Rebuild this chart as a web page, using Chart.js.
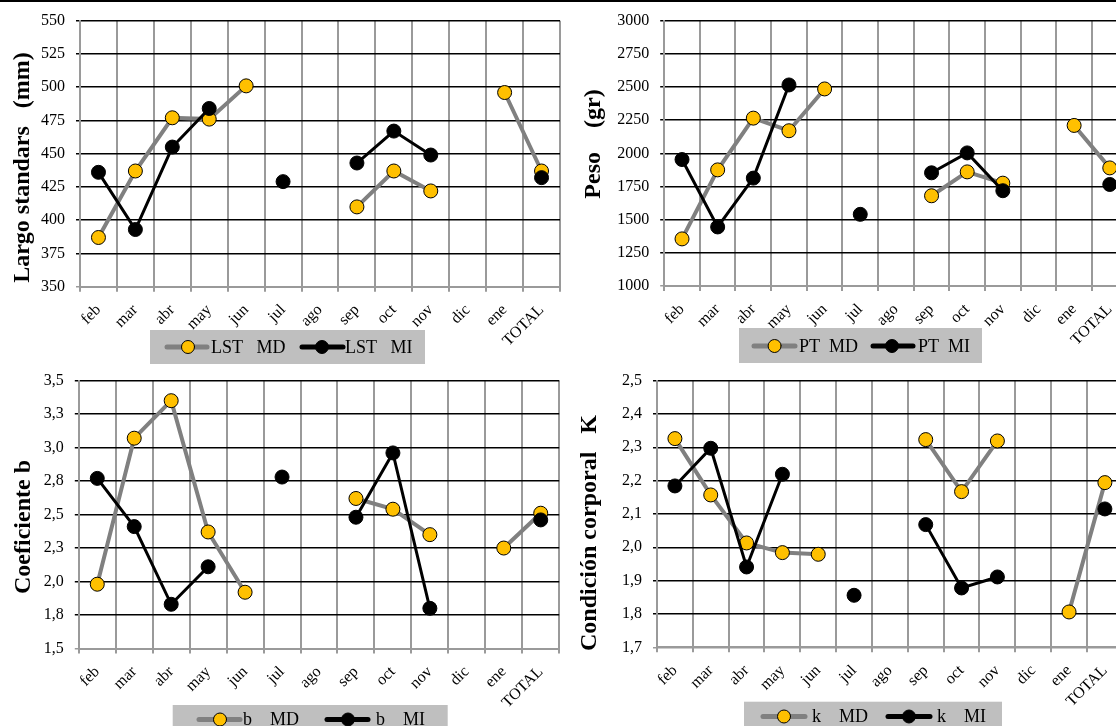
<!DOCTYPE html>
<html>
<head>
<meta charset="utf-8">
<script src="https://cdn.jsdelivr.net/npm/chart.js@4.4.1/dist/chart.umd.min.js"></script>
<style>
  html, body { margin: 0; padding: 0; background: #fff; overflow: hidden; }
  #page { position: relative; width: 1116px; height: 726px; overflow: hidden; background: #fff; }
  #topRule { position: absolute; left: 0; top: 0; width: 1116px; height: 2px; background: #000; }
  canvas { position: absolute; }
</style>
</head>
<body>
<div id="page">
  <div id="topRule"></div>
  <canvas id="c1"></canvas>
  <canvas id="c2"></canvas>
  <canvas id="c3"></canvas>
  <canvas id="c4"></canvas>
</div>
<script>
// Monthly categories (plus the overall total)
const months = ['feb', 'mar', 'abr', 'may', 'jun', 'jul', 'ago', 'sep', 'oct', 'nov', 'dic', 'ene', 'TOTAL'];

// Largo standard (mm)
const lstMD = [387, 437, 477, 476, 501, null, null, 410, 437, 422, null, 496, 437];
const lstMI = [436, 393, 455, 484, null, 429, null, 443, 467, 449, null, null, 432];

// Peso (gr)
const ptMD = [1355, 1875, 2265, 2170, 2485, null, null, 1680, 1860, 1775, null, 2210, 1890];
const ptMI = [1953, 1445, 1813, 2515, null, 1540, null, 1853, 2003, 1718, null, null, 1765];

// Coeficiente b
const bMD = [1.98, 3.07, 3.35, 2.37, 1.92, null, null, 2.62, 2.54, 2.35, null, 2.25, 2.51];
const bMI = [2.77, 2.41, 1.83, 2.11, null, 2.78, null, 2.48, 2.96, 1.80, null, null, 2.46];

// Condición corporal K
const kMD = [2.326, 2.157, 2.013, 1.984, 1.979, null, null, 2.323, 2.167, 2.319, null, 1.806, 2.194];
const kMI = [2.184, 2.297, 1.941, 2.219, null, 1.856, null, 2.068, 1.878, 1.911, null, null, 2.115];

// Y-axis tick values and their printed labels
const lstTickValues = [350, 375, 400, 425, 450, 475, 500, 525, 550];
const lstTickLabels = ['350', '375', '400', '425', '450', '475', '500', '525', '550'];
const ptTickValues = [1000, 1250, 1500, 1750, 2000, 2250, 2500, 2750, 3000];
const ptTickLabels = ['1000', '1250', '1500', '1750', '2000', '2250', '2500', '2750', '3000'];
const bTickValues = [1.5, 1.75, 2.0, 2.25, 2.5, 2.75, 3.0, 3.25, 3.5];
const bTickLabels = ['1,5', '1,8', '2,0', '2,3', '2,5', '2,8', '3,0', '3,3', '3,5'];
const kTickValues = [1.7, 1.8, 1.9, 2.0, 2.1, 2.2, 2.3, 2.4, 2.5];
const kTickLabels = ['1,7', '1,8', '1,9', '2,0', '2,1', '2,2', '2,3', '2,4', '2,5'];

// Series names shown in the legends
const lstNames = ['LST   MD', 'LST   MI'];
const ptNames = ['PT  MD', 'PT  MI'];
const bNames = ['b    MD', 'b    MI'];
const kNames = ['k    MD', 'k    MI'];

const SERIF = '"Liberation Serif", "Times New Roman", serif';
const GRAY_LINE = '#808080';
const GOLD = '#FFC000';
const GRID_V = '#9a9a9a';
const LEGEND_BG = '#bfbfbf';

// Page layout of the four panels (page coordinates)
const panels = [
  {
    canvas: 'c1', left: 0, top: 0, width: 575, height: 370,
    plot: { l: 80, t: 20.7, r: 560, b: 286.7 },
    tickValues: lstTickValues, tickLabels: lstTickLabels,
    names: lstNames, md: lstMD, mi: lstMI,
    title: 'Largo standars   (mm)', titleX: 29, titleY: 167.5,
    legend: { x: 150, y: 330, w: 275, h: 34, cy: 347,
      items: [{ x1: 167, x2: 207, cx: 188, tx: 211 }, { x1: 302, x2: 343, cx: 322, tx: 345 }] }
  },
  {
    canvas: 'c2', left: 560, top: 0, width: 600, height: 370,
    plot: { l: 664.2, t: 19.5, r: 1127.6, b: 286 },
    tickValues: ptTickValues, tickLabels: ptTickLabels,
    names: ptNames, md: ptMD, mi: ptMI,
    title: 'Peso    (gr)', titleX: 600, titleY: 144,
    legend: { x: 739, y: 328, w: 243, h: 35, cy: 346,
      items: [{ x1: 754, x2: 795, cx: 774.6, tx: 799 }, { x1: 873, x2: 913, cx: 892, tx: 918 }] }
  },
  {
    canvas: 'c3', left: 0, top: 360, width: 575, height: 366,
    plot: { l: 78.8, t: 380.5, r: 559.2, b: 648.5 },
    tickValues: bTickValues, tickLabels: bTickLabels,
    names: bNames, md: bMD, mi: bMI,
    title: 'Coeficiente b', titleX: 30, titleY: 527,
    legend: { x: 172.7, y: 705, w: 275, h: 34, cy: 719.5,
      items: [{ x1: 199, x2: 240, cx: 220, tx: 243 }, { x1: 327, x2: 368, cx: 348, tx: 376 }] }
  },
  {
    canvas: 'c4', left: 560, top: 360, width: 600, height: 366,
    plot: { l: 657, t: 379.3, r: 1122.8, b: 647.3 },
    tickValues: kTickValues, tickLabels: kTickLabels,
    names: kNames, md: kMD, mi: kMI,
    title: 'Condición corporal   K', titleX: 596, titleY: 533,
    legend: { x: 744, y: 701.7, w: 258, h: 34, cy: 716.5,
      items: [{ x1: 763, x2: 805, cx: 784, tx: 812 }, { x1: 888, x2: 930, cx: 909, tx: 937 }] }
  }
];

// Draws the rotated axis title and the boxed legend of each panel
const panelDecor = {
  id: 'panelDecor',
  afterDraw(chart, args, opts) {
    const ctx = chart.ctx;
    const ox = opts.originX, oy = opts.originY;

    ctx.save();
    ctx.font = 'bold 24px ' + SERIF;
    ctx.fillStyle = '#000';
    ctx.textAlign = 'center';
    ctx.textBaseline = 'alphabetic';
    ctx.translate(opts.titleX - ox, opts.titleY - oy);
    ctx.rotate(-Math.PI / 2);
    ctx.fillText(opts.title, 0, 0);
    ctx.restore();

    const lg = opts.legend;
    ctx.save();
    ctx.fillStyle = LEGEND_BG;
    ctx.fillRect(lg.x - ox, lg.y - oy, lg.w, lg.h);
    chart.data.datasets.forEach((ds, i) => {
      const it = lg.items[i];
      const cy = lg.cy - oy;
      ctx.strokeStyle = ds.borderColor;
      ctx.lineWidth = ds.legendLineWidth;
      ctx.lineCap = 'round';
      ctx.beginPath();
      ctx.moveTo(it.x1 - ox, cy);
      ctx.lineTo(it.x2 - ox, cy);
      ctx.stroke();
      ctx.beginPath();
      ctx.arc(it.cx - ox, cy, 6.5, 0, Math.PI * 2);
      ctx.fillStyle = ds.pointBackgroundColor;
      ctx.fill();
      ctx.lineWidth = 1;
      ctx.strokeStyle = '#000';
      ctx.stroke();
      ctx.fillStyle = '#000';
      ctx.font = '18px ' + SERIF;
      ctx.textAlign = 'left';
      ctx.textBaseline = 'middle';
      ctx.fillText(ds.label, it.tx - ox, cy + 1);
    });
    ctx.restore();
  }
};

panels.forEach(p => {
  const cv = document.getElementById(p.canvas);
  cv.width = p.width;
  cv.height = p.height;
  cv.style.left = p.left + 'px';
  cv.style.top = p.top + 'px';
  cv.style.width = p.width + 'px';
  cv.style.height = p.height + 'px';

  new Chart(cv, {
    type: 'line',
    data: {
      labels: months,
      datasets: [
        {
          label: p.names[0], data: p.md, order: 2,
          borderColor: GRAY_LINE, borderWidth: 4, legendLineWidth: 5,
          pointRadius: 7, pointBorderWidth: 1,
          pointBackgroundColor: GOLD, pointBorderColor: '#000',
          tension: 0, spanGaps: false
        },
        {
          label: p.names[1], data: p.mi, order: 1,
          borderColor: '#000', borderWidth: 3, legendLineWidth: 5,
          pointRadius: 7, pointBorderWidth: 1,
          pointBackgroundColor: '#000', pointBorderColor: '#000',
          tension: 0, spanGaps: false
        }
      ]
    },
    options: {
      responsive: false,
      animation: false,
      devicePixelRatio: 1,
      events: [],
      layout: {
        padding: {
          left: 0,
          top: p.plot.t - p.top,
          right: (p.left + p.width) - p.plot.r,
          bottom: 0
        }
      },
      plugins: {
        legend: { display: false },
        tooltip: { enabled: false },
        panelDecor: {
          originX: p.left, originY: p.top,
          title: p.title, titleX: p.titleX, titleY: p.titleY,
          legend: p.legend
        }
      },
      scales: {
        x: {
          type: 'category',
          offset: true,
          grid: { offset: true, color: GRID_V, lineWidth: 2, tickLength: 5 },
          border: { color: GRID_V, width: 2 },
          ticks: {
            autoSkip: false, maxRotation: 45, minRotation: 45,
            padding: 9, labelOffset: 0,
            color: '#000', font: { family: SERIF, size: 16 }
          },
          afterFit(s) { s.height = (p.top + p.height) - p.plot.b; }
        },
        y: {
          min: p.tickValues[0],
          max: p.tickValues[p.tickValues.length - 1],
          grid: {
            color: c => (c.index === 0 ? GRID_V : '#000'),
            lineWidth: 1.5, tickLength: 4
          },
          border: { color: GRID_V, width: 2 },
          ticks: {
            padding: 11, color: '#000',
            font: { family: SERIF, size: 16 },
            callback: (v, i) => p.tickLabels[i]
          },
          afterBuildTicks(s) { s.ticks = p.tickValues.map(v => ({ value: v })); },
          afterFit(s) { s.width = p.plot.l - p.left; }
        }
      }
    },
    plugins: [panelDecor]
  });
});
</script>
</body>
</html>
